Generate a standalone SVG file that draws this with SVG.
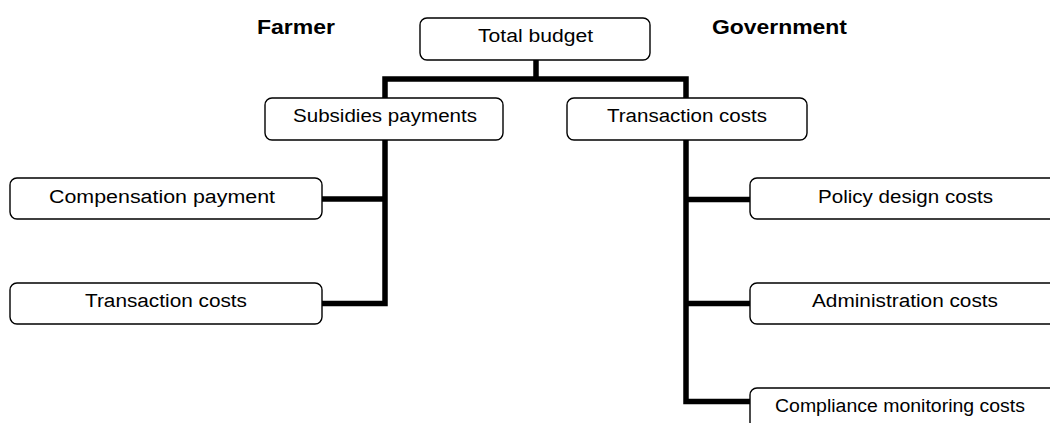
<svg xmlns="http://www.w3.org/2000/svg" width="1050" height="423" viewBox="0 0 1050 423">
<style>
.box{fill:#fff;stroke:#000;stroke-width:1.4}
.t{font-family:"Liberation Sans",Arial,sans-serif;font-size:18px;fill:#000;text-anchor:middle}
.h{font-family:"Liberation Sans",Arial,sans-serif;font-size:20px;font-weight:bold;fill:#000}
.c{fill:none;stroke:#000;stroke-width:5.5;stroke-linejoin:miter;stroke-linecap:butt}
</style>
<rect width="1050" height="423" fill="#fff"/>
<g id="connectors">
<path class="c" d="M536,60 V79"/>
<path class="c" d="M385,98 V79 H686 V98"/>
<path class="c" d="M385,140 V303.5 H322"/>
<path class="c" d="M322,199 H385"/>
<path class="c" d="M686,140 V401.5 H750"/>
<path class="c" d="M686,199.5 H750"/>
<path class="c" d="M686,303.5 H750"/>
</g>
<g id="label-farmer"><text class="h" x="257" y="34" textLength="78" lengthAdjust="spacingAndGlyphs">Farmer</text></g>
<g id="label-government"><text class="h" x="712" y="34" textLength="135" lengthAdjust="spacingAndGlyphs">Government</text></g>
<g id="total-budget"><rect class="box" x="420" y="18" width="230" height="42" rx="7"/><text class="t" x="535.5" y="41.7" textLength="115" lengthAdjust="spacingAndGlyphs">Total budget</text></g>
<g id="subsidies"><rect class="box" x="265" y="98" width="238" height="42" rx="7"/><text class="t" x="385" y="121.7" textLength="184" lengthAdjust="spacingAndGlyphs">Subsidies payments</text></g>
<g id="transaction-gov"><rect class="box" x="567" y="98" width="240" height="42" rx="7"/><text class="t" x="687" y="121.7" textLength="160" lengthAdjust="spacingAndGlyphs">Transaction costs</text></g>
<g id="compensation"><rect class="box" x="10" y="178" width="312" height="41" rx="7"/><text class="t" x="162" y="202.7" textLength="226" lengthAdjust="spacingAndGlyphs">Compensation payment</text></g>
<g id="transaction-farmer"><rect class="box" x="10" y="283" width="312" height="41" rx="7"/><text class="t" x="166" y="306.7" textLength="162" lengthAdjust="spacingAndGlyphs">Transaction costs</text></g>
<g id="policy-design"><rect class="box" x="750" y="178" width="312" height="41" rx="7"/><text class="t" x="905.5" y="202.7" textLength="175" lengthAdjust="spacingAndGlyphs">Policy design costs</text></g>
<g id="administration"><rect class="box" x="750" y="283" width="312" height="41" rx="7"/><text class="t" x="905" y="306.7" textLength="186" lengthAdjust="spacingAndGlyphs">Administration costs</text></g>
<g id="compliance"><rect class="box" x="750" y="388" width="312" height="41" rx="7"/><text class="t" x="900" y="411.7" textLength="250" lengthAdjust="spacingAndGlyphs">Compliance monitoring costs</text></g>
</svg>
